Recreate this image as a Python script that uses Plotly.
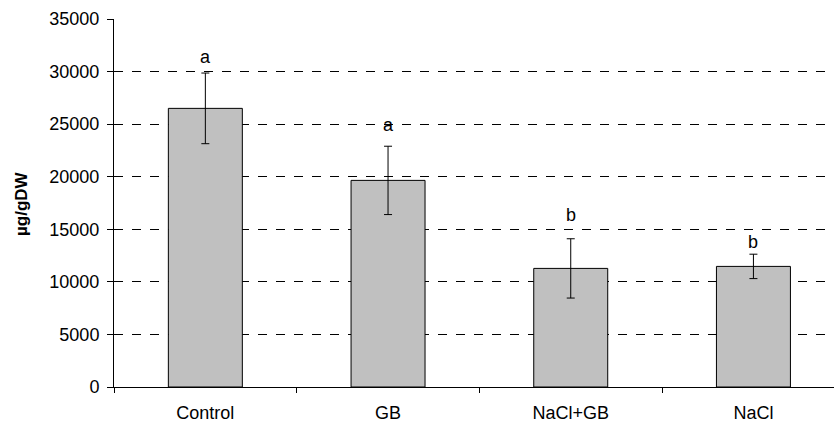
import plotly.graph_objects as go

categories = ["Control", "GB", "NaCl+GB", "NaCl"]
means = [26500, 19650, 11280, 11470]
errors = [3360, 3250, 2820, 1160]
letters = ["a", "a", "b", "b"]
letter_y = [31400, 24950, 16320, 13820]
y_ticks = [0, 5000, 10000, 15000, 20000, 25000, 30000, 35000]
y_ticktext = ["0", "5000", "10000", "15000", "20000", "25000", "30000", "35000"]

FONT = "Liberation Sans, Arial, sans-serif"

fig = go.Figure()
fig.add_trace(go.Bar(
    x=categories, y=means,
    width=0.405,
    marker=dict(color="#C0C0C0", line=dict(color="#000000", width=1)),
    error_y=dict(type="data", array=errors, visible=True,
                 color="#000000", thickness=1, width=4),
    showlegend=False,
))

for c, ly, t in zip(categories, letter_y, letters):
    fig.add_annotation(x=c, y=ly, text=t, showarrow=False,
                       yanchor="middle",
                       font=dict(family=FONT, size=18, color="#000000"))

fig.add_annotation(xref="paper", yref="paper", x=-(114 - 21) / 720, y=0.5,
                   text="<b>µg/gDW</b>", textangle=-90, showarrow=False,
                   xanchor="center", yanchor="middle",
                   font=dict(family=FONT, size=17, color="#000000"))

fig.update_layout(
    width=834, height=423,
    margin=dict(l=114, r=0, t=19, b=36),
    paper_bgcolor="white", plot_bgcolor="white",
    font=dict(family=FONT, size=18, color="#000000"),
    xaxis=dict(
        type="category", range=[-0.5, 3.441],
        showline=True, linecolor="#000000", linewidth=1,
        ticks="outside", tickson="boundaries", ticklen=5, tickcolor="#000000",
        showgrid=False, tickfont=dict(size=18), ticklabelstandoff=9,
    ),
    yaxis=dict(
        range=[0, 35000], tickvals=y_ticks, ticktext=y_ticktext,
        showline=True, linecolor="#000000", linewidth=1,
        ticks="outside", ticklen=6, tickcolor="#000000",
        showgrid=True, gridcolor="#000000", gridwidth=1, griddash="dash",
        zeroline=False, tickfont=dict(size=18), ticklabelstandoff=4,
    ),
    bargap=0.595,
)

fig.write_html("out.html")
